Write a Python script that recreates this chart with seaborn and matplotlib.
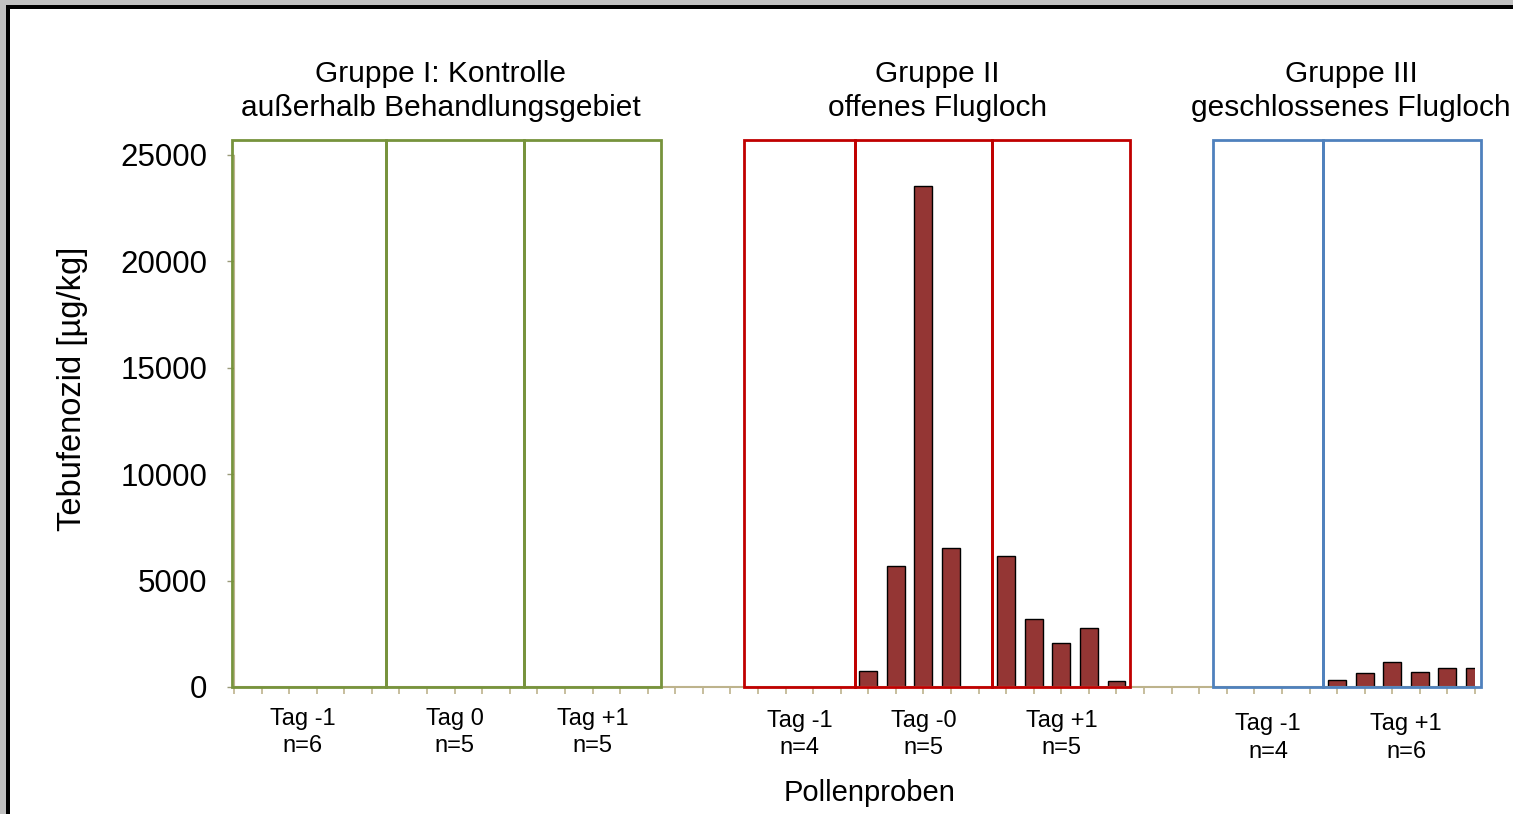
import numpy as np
import pandas as pd
import seaborn as sns
import matplotlib.pyplot as plt
from matplotlib.patches import Rectangle
from matplotlib.transforms import blended_transform_factory

# --- data (Tebufenozid in pollen samples, µg/kg) ---
group_titles = ["Gruppe I: Kontrolle\naußerhalb Behandlungsgebiet",
                "Gruppe II\noffenes Flugloch",
                "Gruppe III\ngeschlossenes Flugloch"]
day_labels = [["Tag -1", "Tag 0", "Tag +1"],
              ["Tag -1", "Tag -0", "Tag +1"],
              ["Tag -1", "Tag +1"]]
g1_tag_m1 = [0, 0, 0, 0, 0, 0]
g1_tag_0 = [0, 0, 0, 0, 0]
g1_tag_p1 = [0, 0, 0, 0, 0]
g2_tag_m1 = [0, 0, 0, 0]
g2_tag_0 = [770, 5690, 23540, 6530, 0]
g2_tag_p1 = [6160, 3180, 2080, 2790, 300]
g3_tag_m1 = [0, 0, 0, 0]
g3_tag_p1 = [330, 640, 1160, 720, 880, 880]
group_values = [[g1_tag_m1, g1_tag_0, g1_tag_p1],
                [g2_tag_m1, g2_tag_0, g2_tag_p1],
                [g3_tag_m1, g3_tag_p1]]
box_colors = ["#77933C", "#C00000", "#4F81BD"]

bar_color = "#943634"
axis_color = "#BDB38C"
GAP = 3  # empty slots between groups

# build long table with slot positions
rows, boxes, day_pos, group_pos = [], [], [], []
slot = 0
for gi, days in enumerate(group_values):
    g_start = slot
    for di, vals in enumerate(days):
        d_start = slot
        for v in vals:
            rows.append({"slot": slot, "value": v, "group": gi})
            slot += 1
        boxes.append((gi, d_start - 0.5, slot - 0.5))
        day_pos.append((gi, di, (d_start + slot - 1) / 2, len(vals)))
    group_pos.append((g_start + slot - 1) / 2)
    slot += GAP
df = pd.DataFrame(rows)
n_slots = df["slot"].max()

sns.set_style("white")
plt.rcParams["font.family"] = ["Liberation Sans", "DejaVu Sans"]
plt.rcParams["text.color"] = "black"
plt.rcParams["ytick.labelcolor"] = "black"

fig = plt.figure(figsize=(15.13, 8.14), dpi=100)
ax = fig.add_axes([234 / 1513, 127 / 814, 1241 / 1513, 532 / 814])

sns.barplot(data=df[df["value"] > 0], x="slot", y="value", native_scale=True,
            width=0.65, color=bar_color, edgecolor="black", linewidth=1.0,
            saturation=1, ax=ax, zorder=2)

ax.set_xlim(0, n_slots)
ax.set_ylim(0, 25000)
ax.set_yticks(np.arange(0, 25001, 5000))
ax.set_xticks(np.arange(0, n_slots + 1))
ax.set_xticklabels([])
ax.tick_params(axis="x", direction="out", length=5, width=1.2, color=axis_color, bottom=True)
ax.tick_params(axis="y", direction="out", length=5, width=1.0, color="#9a9a7a", left=True,
               labelsize=22.5, pad=14, labelcolor="black")
for side in ["top", "right"]:
    ax.spines[side].set_visible(False)
ax.spines["bottom"].set_color(axis_color)
ax.spines["bottom"].set_linewidth(1.5)
ax.spines["left"].set_color(axis_color)
ax.set_xlabel("")
ax.set_ylabel("")

# group boxes
for gi, x0, x1 in boxes:
    x0 = max(x0, -0.07)
    x1 = min(x1, n_slots + 0.2)
    ax.add_patch(Rectangle((x0, 0), x1 - x0, 25700, fill=False, edgecolor=box_colors[gi],
                           linewidth=2.0, clip_on=False, zorder=3))

trans = blended_transform_factory(ax.transData, ax.transAxes)
label_y = [-0.085, -0.089, -0.096]
for gi, di, xc, n in day_pos:
    ax.text(xc, label_y[gi], f"{day_labels[gi][di]}\nn={n}", transform=trans,
            ha="center", va="center", fontsize=17, linespacing=1.32, color="black")
for gi, xc in enumerate(group_pos):
    ax.text(xc, 1.120, group_titles[gi], transform=trans, ha="center", va="center",
            fontsize=21.5, linespacing=1.3, color="black")

ax.text(0.5125, -0.199, "Pollenproben", transform=ax.transAxes, ha="center", va="center",
        fontsize=21, color="black")
ax.text(-0.1305, 0.56, "Tebufenozid [µg/kg]", transform=ax.transAxes, ha="center",
        va="center", rotation=90, fontsize=23.5, color="black")

# screenshot frame (grey margin + black border top/left)
W, H = 1513, 814
fig.patches.append(Rectangle((0, 1 - 5 / H), 1, 5 / H, transform=fig.transFigure,
                             facecolor="#C0C0C0", edgecolor="none"))
fig.patches.append(Rectangle((0, 0), 6 / W, 1, transform=fig.transFigure,
                             facecolor="#C0C0C0", edgecolor="none"))
fig.patches.append(Rectangle((6 / W, 1 - 9 / H), 1, 4 / H, transform=fig.transFigure,
                             facecolor="black", edgecolor="none"))
fig.patches.append(Rectangle((6 / W, 0), 4 / W, 1 - 5 / H, transform=fig.transFigure,
                             facecolor="black", edgecolor="none"))

fig.savefig("out.png", dpi=100)
